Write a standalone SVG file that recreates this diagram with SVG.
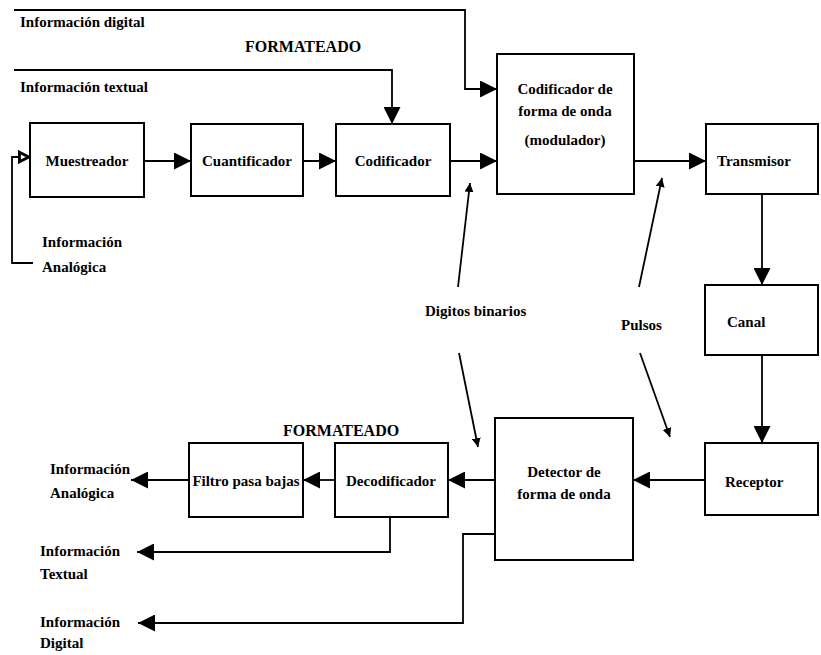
<svg xmlns="http://www.w3.org/2000/svg" width="821" height="655" viewBox="0 0 821 655">
<defs>
<style>
.box{fill:#fff;stroke:#000;stroke-width:2}
.ln{fill:none;stroke:#000;stroke-width:1.8}
.t{font-family:"Liberation Serif","Times New Roman",serif;font-weight:bold;font-size:15px;fill:#000}
.c{text-anchor:middle}
</style>
<marker id="ah" viewBox="0 0 10 10" refX="10" refY="5" markerWidth="9" markerHeight="9" markerUnits="userSpaceOnUse" orient="auto">
<path d="M0,0 L10,5 L0,10 Z" fill="#000"/>
</marker>
<marker id="big" viewBox="0 0 10 10" refX="10" refY="5" markerWidth="17" markerHeight="17" markerUnits="userSpaceOnUse" orient="auto">
<path d="M0,0 L10,5 L0,10 Z" fill="#000"/>
</marker>
<marker id="open" viewBox="0 0 10 10" refX="10" refY="5" markerWidth="12" markerHeight="14" markerUnits="userSpaceOnUse" orient="auto">
<path d="M1.2,1 L9,5 L1.2,9 Z" fill="#fff" stroke="#000" stroke-width="2.4"/>
</marker>
</defs>
<rect width="821" height="655" fill="#fff"/>

<g id="connectors">
<path class="ln" d="M14,10 H465 V89 H497" marker-end="url(#big)"/>
<path class="ln" d="M14,70 H392 V124" marker-end="url(#big)"/>
<path class="ln" d="M33,263 H12 V157 H30" marker-end="url(#open)"/>
<path class="ln" d="M145,161 H191" marker-end="url(#big)"/>
<path class="ln" d="M303,161 H336" marker-end="url(#big)"/>
<path class="ln" d="M450,161 H497" marker-end="url(#big)"/>
<path class="ln" d="M634,161 H706" marker-end="url(#big)"/>
<path class="ln" d="M762,194 V285" marker-end="url(#big)"/>
<path class="ln" d="M762,355 V443" marker-end="url(#big)"/>
<path class="ln" d="M705,480 H633" marker-end="url(#big)"/>
<path class="ln" d="M495,480 H448" marker-end="url(#big)"/>
<path class="ln" d="M335,480 H303" marker-end="url(#big)"/>
<path class="ln" d="M189,480 H131" marker-end="url(#big)"/>
<path class="ln" d="M390,517 V552 H137" marker-end="url(#big)"/>
<path class="ln" d="M495,534 H463 V623 H138" marker-end="url(#big)"/>
<path class="ln" d="M458,287 L470,183" marker-end="url(#ah)"/>
<path class="ln" d="M459,353 L478,447" marker-end="url(#ah)"/>
<path class="ln" d="M639,287 L662,178" marker-end="url(#ah)"/>
<path class="ln" d="M640,353 L670,437" marker-end="url(#ah)"/>
</g>

<g id="muestreador"><rect class="box" x="30" y="123" width="114" height="74"/><text class="t c" x="87" y="166">Muestreador</text></g>
<g id="cuantificador"><rect class="box" x="191" y="124" width="112" height="72"/><text class="t c" x="247" y="166">Cuantificador</text></g>
<g id="codificador"><rect class="box" x="336" y="124" width="114" height="72"/><text class="t c" x="393" y="166">Codificador</text></g>
<g id="codificador-onda"><rect class="box" x="497" y="54" width="137" height="140"/><text class="t c" x="565" y="94">Codificador de</text><text class="t c" x="565" y="116">forma de onda</text><text class="t c" x="565" y="145">(modulador)</text></g>
<g id="transmisor"><rect class="box" x="706" y="124" width="112" height="70"/><text class="t" x="717" y="166">Transmisor</text></g>
<g id="canal"><rect class="box" x="705" y="285" width="113" height="70"/><text class="t" x="727" y="327">Canal</text></g>
<g id="receptor"><rect class="box" x="705" y="443" width="113" height="72"/><text class="t" x="725" y="487">Receptor</text></g>
<g id="detector"><rect class="box" x="495" y="418" width="138" height="142"/><text class="t c" x="564" y="477">Detector de</text><text class="t c" x="564" y="499">forma de onda</text></g>
<g id="decodificador"><rect class="box" x="335" y="443" width="113" height="74"/><text class="t c" x="391" y="486">Decodificador</text></g>
<g id="filtro"><rect class="box" x="189" y="443" width="114" height="74"/><text class="t c" x="246" y="486">Filtro pasa bajas</text></g>

<g id="labels">
<text class="t" x="20" y="27">Información digital</text>
<text class="t" x="245" y="52" style="font-size:16px">FORMATEADO</text>
<text class="t" x="20" y="92">Información textual</text>
<text class="t" x="42" y="247">Información</text>
<text class="t" x="42" y="272">Analógica</text>
<text class="t" x="425" y="316">Digitos binarios</text>
<text class="t" x="621" y="330">Pulsos</text>
<text class="t" x="283" y="436" style="font-size:16px">FORMATEADO</text>
<text class="t" x="50" y="474">Información</text>
<text class="t" x="50" y="498">Analógica</text>
<text class="t" x="40" y="556">Información</text>
<text class="t" x="40" y="579">Textual</text>
<text class="t" x="40" y="627">Información</text>
<text class="t" x="40" y="648">Digital</text>
</g>
</svg>
